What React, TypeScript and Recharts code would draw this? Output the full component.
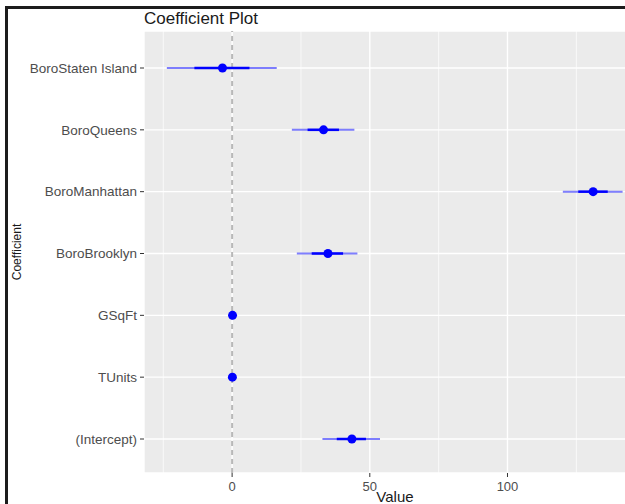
import {
  CartesianGrid,
  ComposedChart,
  ErrorBar,
  Label,
  Line,
  ReferenceLine,
  XAxis,
  YAxis,
} from "recharts";

// coefficient names, top to bottom
const terms = [
  "BoroStaten Island",
  "BoroQueens",
  "BoroManhattan",
  "BoroBrooklyn",
  "GSqFt",
  "TUnits",
  "(Intercept)",
];
const estimate = [-3.5, 33.2, 131.1, 34.8, 0.15, 0.1, 43.5];
const outerLow = [-23.7, 21.7, 120.1, 23.5, 0.05, 0.0, 32.8];
const outerHigh = [16.2, 44.4, 141.8, 45.5, 0.25, 0.2, 53.7];
const innerLow = [-13.7, 27.4, 125.7, 28.9, 0.1, 0.05, 38.0];
const innerHigh = [6.3, 38.8, 136.4, 40.3, 0.2, 0.15, 48.6];

const majorTicks = [0, 50, 100];
const minorTicks = [-25, 25, 75, 125];

const data = terms.map((term, i) => ({
  term,
  estimate: estimate[i],
  outerErr: [estimate[i] - outerLow[i], outerHigh[i] - estimate[i]],
  innerErr: [estimate[i] - innerLow[i], innerHigh[i] - estimate[i]],
}));

const FONT = "'Liberation Sans', Arial, sans-serif";
const BLUE = "#0000ff";

export default function App() {
  return (
    <div
      style={{
        position: "absolute",
        left: 0,
        top: 0,
        width: 625,
        height: 504,
        overflow: "hidden",
        background: "#fff",
        fontFamily: FONT,
      }}
    >
      <div
        style={{
          position: "absolute",
          left: 5,
          top: 6,
          width: 700,
          height: 600,
          borderTop: "3px solid #1c1c1c",
          borderLeft: "3px solid #1c1c1c",
        }}
      />
      <div
        style={{
          position: "absolute",
          left: 144,
          top: 10,
          fontSize: 17,
          lineHeight: "17px",
          color: "#1a1a1a",
        }}
      >
        Coefficient Plot
      </div>
      <ComposedChart
        width={646}
        height={504}
        data={data}
        layout="vertical"
        margin={{ top: 31, right: 0, bottom: 0, left: 0 }}
        style={{ position: "absolute", left: 0, top: 0 }}
      >
        <CartesianGrid
          fill="#ebebeb"
          fillOpacity={1}
          stroke="#ffffff"
          strokeWidth={1.4}
          strokeDasharray=""
        />
        <XAxis
          type="number"
          domain={[-32, 150.3]}
          allowDataOverflow
          ticks={majorTicks}
          height={31}
          axisLine={false}
          tickSize={4}
          tickMargin={5}
          tickLine={{ stroke: "#333333" }}
          tick={{ fill: "#4d4d4d", fontSize: 13, fontFamily: FONT }}
        >
          <Label
            content={({ viewBox }: any) => (
              <text
                x={viewBox.x + viewBox.width / 2}
                y={viewBox.y + viewBox.height - 2}
                textAnchor="middle"
                fontSize={15}
                fontFamily={FONT}
                fill="#1a1a1a"
              >
                Value
              </text>
            )}
          />
        </XAxis>
        <YAxis
          type="category"
          dataKey="term"
          width={144}
          axisLine={false}
          padding={{ top: 37, bottom: 34 }}
          tickSize={4}
          tickMargin={3}
          tickLine={{ stroke: "#333333" }}
          tick={{ fill: "#4d4d4d", fontSize: 13.5, fontFamily: FONT }}
          interval={0}
        >
          <Label
            content={({ viewBox }: any) => {
              const x = viewBox.x + 17;
              const y = viewBox.y + viewBox.height / 2;
              return (
                <text
                  x={x}
                  y={y}
                  transform={`rotate(-90 ${x} ${y})`}
                  textAnchor="middle"
                  dominantBaseline="central"
                  fontSize={12}
                  fontFamily={FONT}
                  fill="#1a1a1a"
                >
                  Coefficient
                </text>
              );
            }}
          />
        </YAxis>
        {minorTicks.map((v) => (
          <ReferenceLine key={v} x={v} stroke="#ffffff" strokeWidth={0.7} zIndex={-50} />
        ))}
        <ReferenceLine
          x={0}
          stroke="#b8b8b8"
          strokeWidth={2}
          strokeDasharray="5 4"
          zIndex={-40}
        />
        <Line
          dataKey="estimate"
          stroke="transparent"
          strokeWidth={0}
          isAnimationActive={false}
          dot={{ r: 4.5, fill: BLUE, stroke: BLUE, strokeWidth: 0 }}
          activeDot={false}
        >
          <ErrorBar
            dataKey="outerErr"
            direction="x"
            width={0}
            stroke={BLUE}
            strokeOpacity={0.5}
            strokeWidth={2}
          />
          <ErrorBar
            dataKey="innerErr"
            direction="x"
            width={0}
            stroke={BLUE}
            strokeWidth={2.5}
          />
        </Line>
      </ComposedChart>
    </div>
  );
}
